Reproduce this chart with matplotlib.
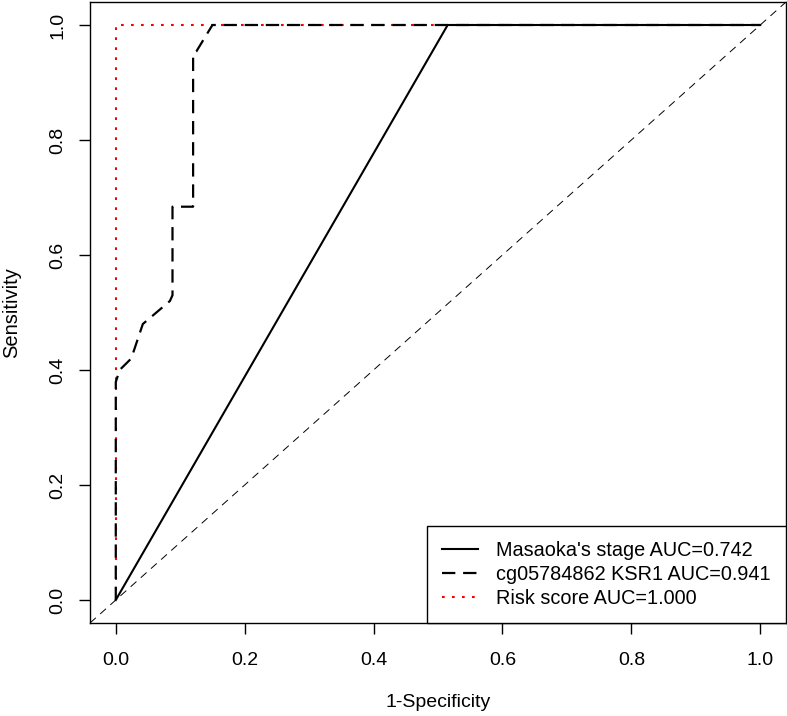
import matplotlib.pyplot as plt
import numpy as np

plt.rcParams['font.family'] = ['Liberation Sans', 'DejaVu Sans']

# ROC curves (false positive rate, true positive rate)
masaoka_fpr = [0.0, 0.515, 1.0]
masaoka_tpr = [0.0, 1.0, 1.0]

ksr1_fpr = [0.0, 0.0, 0.006, 0.024, 0.042, 0.084, 0.088, 0.088, 0.12, 0.12, 0.125, 0.15, 1.0]
ksr1_tpr = [0.0, 0.379, 0.40, 0.42, 0.48, 0.52, 0.53, 0.684, 0.684, 0.95, 0.954, 1.0, 1.0]

risk_fpr = [0.0, 0.0, 1.0]
risk_tpr = [0.0, 1.0, 1.0]

labels = ["Masaoka's stage AUC=0.742", "cg05784862 KSR1 AUC=0.941", "Risk score AUC=1.000"]
ticks = [0.0, 0.2, 0.4, 0.6, 0.8, 1.0]

fig = plt.figure(figsize=(7.87, 7.16), dpi=100)
ax = fig.add_axes([90 / 787, 1 - 623 / 716, 696 / 787, 621 / 716])

ax.set_xlim(-0.04, 1.04)
ax.set_ylim(-0.04, 1.04)

# reference diagonal
ax.plot([-0.04, 1.04], [-0.04, 1.04], color='black', lw=0.7, dashes=(8, 6), zorder=1)

h_risk, = ax.plot(risk_fpr, risk_tpr, color='red', lw=1.5, dashes=(1.3, 3.5), zorder=2)
h_mas, = ax.plot(masaoka_fpr, masaoka_tpr, color='black', lw=1.5, zorder=3)
h_ksr, = ax.plot(ksr1_fpr, ksr1_tpr, color='black', lw=1.6, dashes=(6, 3.5), zorder=3)

ax.set_xticks(ticks)
ax.set_yticks(ticks)
ax.set_xticklabels([f'{t:.1f}' for t in ticks])
ax.set_yticklabels([f'{t:.1f}' for t in ticks], rotation=90, va='center')
ax.tick_params(direction='out', length=8, width=1, labelsize=14)
ax.tick_params(axis='x', pad=13)
ax.tick_params(axis='y', pad=9)
for s in ax.spines.values():
    s.set_linewidth(1)

ax.set_xlabel('1-Specificity', fontsize=14, labelpad=18)
ax.set_ylabel('Sensitivity', fontsize=14.5, labelpad=20)

leg = ax.legend([h_mas, h_ksr, h_risk], labels,
                loc='lower right', fontsize=14.3, frameon=True, fancybox=False,
                edgecolor='black', framealpha=1, borderaxespad=0,
                handlelength=1.8, handletextpad=0.95, labelspacing=0.25,
                borderpad=0.75)
leg.get_frame().set_linewidth(1)

fig.savefig('out.png', dpi=100)
